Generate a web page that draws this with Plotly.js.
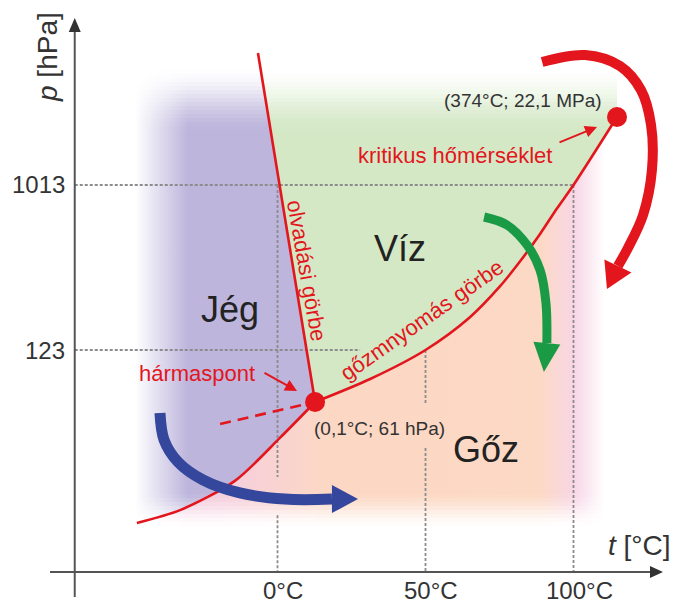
<!DOCTYPE html>
<html><head><meta charset="utf-8">
<script src="https://cdn.plot.ly/plotly-3.0.1.min.js"></script>
<style>html,body{margin:0;padding:0;background:#fff}</style>
</head><body><div id="chart" style="width:673px;height:603px"></div>
<script>
// ---------------- data (schematic diagram: temperature °C, pressure hPa) ----------------
const tickT = [0, 50, 100];
const tickTLabels = ['0°C', '50°C', '100°C'];
const tickP = [123, 1013];
const tickPLabels = ['123', '1013'];

// sublimation curve (ice / vapour)
const sublimT = [-47.5, -32.9, -14.4, 0.8, 12.7];
const sublimP = [13.5, 15.9, 23.1, 40.0, 63.3];
// vapour-pressure curve (water / vapour) up to the critical point
const vapT = [12.7, 31.3, 50, 65, 75.2, 81.9, 88.7, 94.4, 100, 114.7];
const vapP = [63.3, 84.9, 123, 187, 278, 381, 542, 750, 1013, 2415];
// melting curve
const meltT = [-6.6, 12.7];
const meltP = [5472, 63.3];
// metastable (supercooled water) extension
const metaT = [-19.4, 12.7];
const metaP = [47.8, 63.3];
// special points
const tripleT = [12.7], tripleP = [63.3];
const critT = [114.7], critP = [2415];

// decorative process arrows (T, p) and their tips
const blueArrowT = [-39.7, -38.3, -33.6, -25.2, -12.7, 2.5, 18.4];
const blueArrowP = [55, 38.9, 29.4, 23.4, 19.8, 18.3, 18.3];
const blueTip = [27.2, 18.3];
const greenArrowT = [69.8, 77.5, 84.3, 88.7, 90.7, 91.0];
const greenArrowP = [673, 608, 471, 342, 224, 134.5];
const greenTip = [90.0, 92.9];
const redArrowT = [89.4, 103.9, 115.7, 122.8, 126.2, 126.5, 123.5, 118.4, 115.0];
const redArrowP = [4878, 5333, 4634, 3410, 2181, 1227, 690.5, 452.9, 359.8];
const redTip = [111.3, 268.2];

// axes (origin of the drawn axes)
const axisT = -68.5, axisP = 7.2;

// ---------------- geometry helpers ----------------
const W = 673, H = 603;
const xRange = [-93.75, 133.615];
const yRange = [0.68595, 4.03224]; // log10(hPa)
function toPx(t, p) {
  return [(t - xRange[0]) / (xRange[1] - xRange[0]) * W,
          H - (Math.log10(p) - yRange[0]) / (yRange[1] - yRange[0]) * H];
}
function fromPx(x, y) {
  return [xRange[0] + x / W * (xRange[1] - xRange[0]),
          Math.pow(10, yRange[0] + (H - y) / H * (yRange[1] - yRange[0]))];
}
function headPoly(bT, bP, tip, w) {
  const b = toPx(bT, bP), t = toPx(tip[0], tip[1]);
  const dx = t[0] - b[0], dy = t[1] - b[1], L = Math.hypot(dx, dy);
  const nx = -dy / L * w / 2, ny = dx / L * w / 2;
  const pts = [[b[0] + nx, b[1] + ny], t, [b[0] - nx, b[1] - ny]].map(q => fromPx(q[0], q[1]));
  return {x: pts.map(q => q[0]), y: pts.map(q => q[1])};
}
const P = (x, y) => ({x: x / W, y: 1 - y / H, xref: 'paper', yref: 'paper'});

const RED = '#e3161d', GREEN = '#1b9a45', BLUE = '#34479c', GRID = '#8c8c8c', AX = '#555555';
const traces = [];
const base = {type: 'scatter', hoverinfo: 'skip', showlegend: false};

// ---------------- region fills ----------------
const subRev = sublimT.slice(0, 4).reverse(), subRevP = sublimP.slice(0, 4).reverse();
traces.push(Object.assign({}, base, {
  x: [-60].concat(meltT, subRev, [-60]), y: [meltP[0]].concat(meltP, subRevP, [subRevP[subRevP.length - 1]]),
  mode: 'lines', fill: 'toself', fillcolor: '#bdb5dc', line: {width: 0}
}));
traces.push(Object.assign({}, base, {
  x: [meltT[0]].concat(vapT, [critT[0]]), y: [meltP[0]].concat(vapP, [meltP[0]]),
  mode: 'lines', fill: 'toself', fillcolor: '#d4e8c6', line: {width: 0}
}));
const peachRight = fromPx(640, 0)[0], peachBottom = fromPx(0, 540)[1];
traces.push(Object.assign({}, base, {
  x: vapT.concat([peachRight, peachRight, -50], sublimT.slice(0, 4)),
  y: vapP.concat([critP[0], peachBottom, peachBottom], sublimP.slice(0, 4)),
  mode: 'lines', fill: 'toself', line: {width: 0}, fillcolor: '#fcd8c4',
  fillgradient: {type: 'horizontal', start: sublimT[0], stop: peachRight,
    colorscale: [[0, '#ecc6e2'], [0.185, '#f6cfdc'], [0.384, '#fcd8c4'], [0.8, '#fcd9c4'],
                 [0.87, '#f8d6e6'], [0.93, '#ffffff'], [1, '#ffffff']]}
}));

// white fades round the coloured field
const WHITE = 'rgba(255,255,255,1)', CLEAR = 'rgba(255,255,255,0)';
const leftStop = fromPx(188, 0)[0];
traces.push(Object.assign({}, base, {
  x: [xRange[0], leftStop, leftStop, xRange[0]], y: [3, 3, 20000, 20000],
  mode: 'lines', fill: 'toself', line: {width: 0}, fillcolor: WHITE,
  fillgradient: {type: 'horizontal', start: fromPx(135, 0)[0], stop: leftStop, colorscale: [[0, WHITE], [1, CLEAR]]}
}));
// vertical fades built from thin semi-transparent white bands (pixel rows)
function vFade(pyWhite, pyClear, pyEdge, step) {
  const dir = pyClear > pyWhite ? 1 : -1;
  const n = Math.round(Math.abs(pyClear - pyWhite) / step);
  const rect = (a, b, alpha) => traces.push(Object.assign({}, base, {
    x: [xRange[0], xRange[1], xRange[1], xRange[0]],
    y: [fromPx(0, a)[1], fromPx(0, a)[1], fromPx(0, b)[1], fromPx(0, b)[1]],
    mode: 'lines', fill: 'toself', line: {width: 0}, fillcolor: 'rgba(255,255,255,' + alpha.toFixed(3) + ')'
  }));
  rect(pyEdge, pyWhite, 1);
  for (let i = 0; i < n; i++) {
    const a = pyWhite + dir * i * step, b = a + dir * step;
    const f = (i + 0.5) / n;
    rect(a, b, 1 - (f * f * (3 - 2 * f)));
  }
}
vFade(66, 134, 0, 4);
vFade(530, 490, 603, 4);

// ---------------- dashed reference lines ----------------
const gridLine = {mode: 'lines', line: {color: GRID, width: 1.8, dash: '3px,2px'}};
traces.push(Object.assign({}, base, gridLine, {x: [axisT, tickT[2]], y: [tickP[1], tickP[1]]}));
traces.push(Object.assign({}, base, gridLine, {x: [axisT, 27.9], y: [tickP[0], tickP[0]]}));
traces.push(Object.assign({}, base, gridLine, {x: [tickT[0], tickT[0], null, tickT[0], tickT[0]], y: [tickP[1], 24.3, null, 14.9, axisP]}));
traces.push(Object.assign({}, base, gridLine, {x: [tickT[1], tickT[1], null, tickT[1], tickT[1]], y: [tickP[0], 60.9, null, 35.2, axisP]}));
traces.push(Object.assign({}, base, gridLine, {x: [tickT[2], tickT[2]], y: [tickP[1], axisP]}));

// ---------------- phase boundaries ----------------
traces.push(Object.assign({}, base, {x: meltT, y: meltP, mode: 'lines', line: {color: RED, width: 2.6}}));
traces.push(Object.assign({}, base, {x: sublimT, y: sublimP, mode: 'lines', line: {color: RED, width: 2.6, shape: 'spline', smoothing: 0.8}}));
traces.push(Object.assign({}, base, {x: vapT, y: vapP, mode: 'lines', line: {color: RED, width: 2.6, shape: 'spline', smoothing: 0.8}}));
traces.push(Object.assign({}, base, {x: metaT, y: metaP, mode: 'lines', line: {color: RED, width: 2.6, dash: '11px,7px'}}));

// ---------------- axes with arrow heads ----------------
traces.push(Object.assign({}, base, {x: [fromPx(50, 0)[0], fromPx(650, 0)[0]], y: [axisP, axisP], mode: 'lines', line: {color: AX, width: 2}}));
traces.push(Object.assign({}, base, {x: [axisT, axisT], y: [fromPx(0, 597)[1], fromPx(0, 32)[1]], mode: 'lines', line: {color: AX, width: 2}}));
(function () {
  const hx = headPoly(fromPx(650, 0)[0], axisP, [fromPx(663, 0)[0], axisP], 12);
  const hy = headPoly(axisT, fromPx(0, 32)[1], [axisT, fromPx(0, 18)[1]], 12);
  [hx, hy].forEach(h => traces.push(Object.assign({}, base, {x: h.x, y: h.y, mode: 'lines', fill: 'toself', fillcolor: '#333', line: {width: 0}})));
})();

// ---------------- process arrows ----------------
function bigArrow(xs, ys, tip, color, width, headW) {
  traces.push(Object.assign({}, base, {x: xs, y: ys, mode: 'lines', line: {color: color, width: width, shape: 'spline', smoothing: 1}}));
  const h = headPoly(xs[xs.length - 1], ys[ys.length - 1], tip, headW);
  traces.push(Object.assign({}, base, {x: h.x, y: h.y, mode: 'lines', fill: 'toself', fillcolor: color, line: {width: 0}}));
}
bigArrow(blueArrowT, blueArrowP, blueTip, BLUE, 11, 28);
bigArrow(greenArrowT, greenArrowP, greenTip, GREEN, 9, 27);
bigArrow(redArrowT, redArrowP, redTip, RED, 10, 30);

// ---------------- points ----------------
traces.push(Object.assign({}, base, {x: tripleT.concat(critT), y: tripleP.concat(critP), mode: 'markers', marker: {color: RED, size: 20}}));

// ---------------- texts ----------------
const dark = '#222222', grey = '#333333';
const ann = [];
function txt(x, y, text, size, color, extra) { ann.push(Object.assign(P(x, y), {text: text, showarrow: false, xanchor: 'center', yanchor: 'middle', font: {size: size, color: color}}, extra || {})); }
txt(230, 309, 'Jég', 36, dark);
txt(400, 248, 'Víz', 36, dark);
txt(486, 449, 'Gőz', 36, dark);
txt(523, 100, '(374°C; 22,1 MPa)', 19, grey);
txt(455, 155, 'kritikus hőmérséklet', 22, RED);
txt(197, 373, 'hármaspont', 22, RED);
txt(379, 428, '(0,1°C; 61 hPa)', 19, grey);
txt(307, 270, 'olvadási görbe', 22, RED, {textangle: 80});
txt(421, 320, 'gőzmnyomás görbe', 22, RED, {textangle: -35});
// tick labels
const tickTpx = tickT.map(t => toPx(t, 100)[0] + 6);
tickT.forEach((t, i) => txt(tickTpx[i], 590, tickTLabels[i], 24, grey));
tickP.forEach((p, i) => txt(67, toPx(0, p)[1], tickPLabels[i], 24, grey, {xanchor: 'right'}));
// axis titles
txt(47, 57, '<i>p</i> [hPa]', 28, grey, {textangle: -90});
txt(639, 545, '<i>t</i> [°C]', 28, grey);
// small pointer arrows
ann.push(Object.assign(P(297, 391), {text: '', showarrow: true, ax: -34, ay: -19, arrowhead: 2, arrowsize: 1.2, arrowwidth: 2, arrowcolor: RED}));
ann.push(Object.assign(P(597, 127), {text: '', showarrow: true, ax: -39, ay: 16, arrowhead: 2, arrowsize: 1.2, arrowwidth: 2, arrowcolor: RED}));

const layout = {
  width: W, height: H, autosize: false,
  margin: {l: 0, r: 0, t: 0, b: 0, pad: 0},
  paper_bgcolor: '#ffffff', plot_bgcolor: '#ffffff',
  font: {family: 'Liberation Sans, Arial, sans-serif', color: grey},
  xaxis: {range: xRange, visible: false, fixedrange: true},
  yaxis: {type: 'log', range: yRange, visible: false, fixedrange: true},
  showlegend: false,
  annotations: ann
};
Plotly.newPlot('chart', traces, layout, {staticPlot: true, displayModeBar: false});
</script>
</body></html>
